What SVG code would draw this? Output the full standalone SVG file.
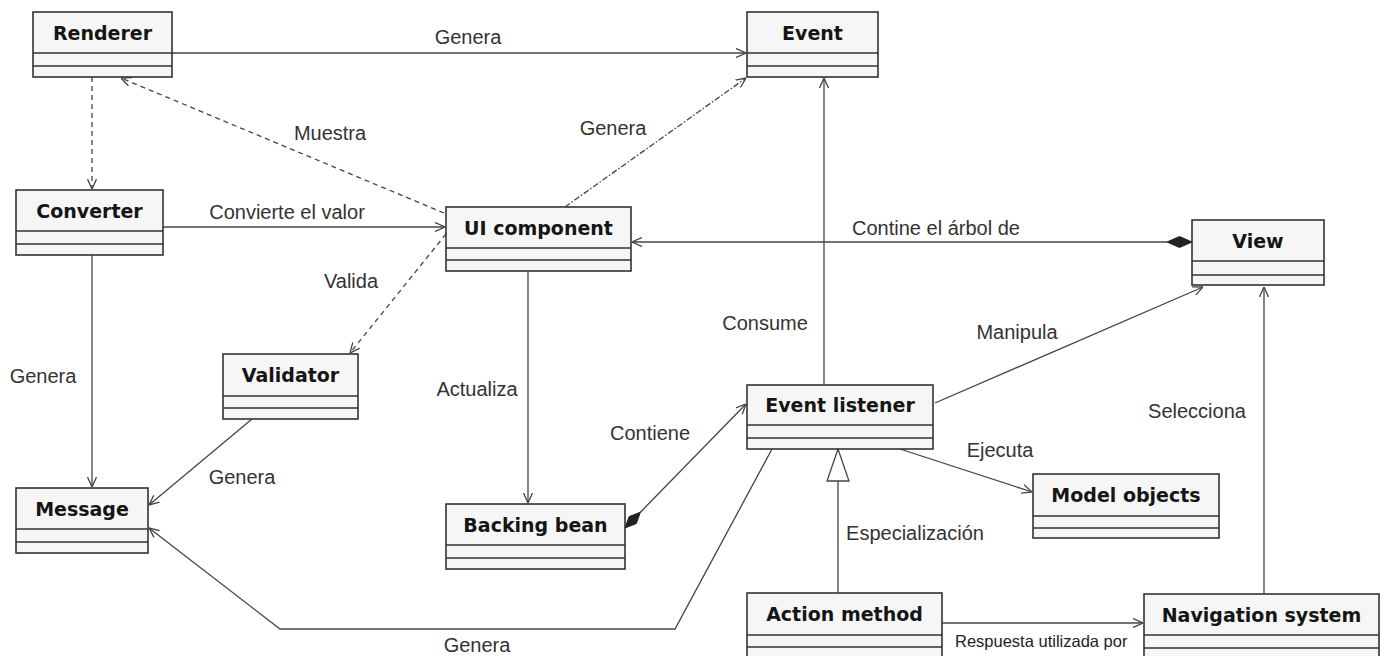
<svg xmlns="http://www.w3.org/2000/svg" width="1387" height="656" viewBox="0 0 1387 656">
<defs>
<style>
.box{fill:#f6f6f6;stroke:#333;stroke-width:1.6}
.div{stroke:#333;stroke-width:1.6;fill:none}
.name{font-family:"DejaVu Sans",Verdana,sans-serif;font-weight:bold;font-size:19px;fill:#151515;text-anchor:middle}
.lbl{font-family:"Liberation Sans",Arial,sans-serif;font-size:20px;fill:#333;text-anchor:middle}
.small{font-family:"Liberation Sans",Arial,sans-serif;font-size:16.5px;fill:#222}
.c{fill:none;stroke:#444;stroke-width:1.3}
.dash{stroke-dasharray:5,4}
.dd{stroke-dasharray:6,2,1.5,2}
</style>
<marker id="arr" viewBox="0 0 10 10" refX="10" refY="5" markerWidth="10" markerHeight="10" markerUnits="userSpaceOnUse" orient="auto">
<path d="M0,0.5 L10,5 L0,9.5" fill="none" stroke="#444" stroke-width="1.3"/>
</marker>
</defs>
<rect width="1387" height="656" fill="#ffffff"/>

<g id="connectors">
<path class="c" d="M172,53 H746" marker-end="url(#arr)"/>
<path class="c dash" d="M92,77 V189" marker-end="url(#arr)"/>
<path class="c dash" d="M444,213 L121,78" marker-end="url(#arr)"/>
<path class="c" d="M163,227 H445" marker-end="url(#arr)"/>
<path class="c dd" d="M565,207 L746,78" marker-end="url(#arr)"/>
<path class="c" d="M1167,242 H632" marker-end="url(#arr)"/>
<polygon points="1192,242 1179.5,236.5 1167,242 1179.5,247.5" fill="#222" stroke="#222" stroke-width="1"/>
<path class="c dash" d="M446,234 L350,353" marker-end="url(#arr)"/>
<path class="c" d="M92,255 V487" marker-end="url(#arr)"/>
<path class="c" d="M252,419 L149,505" marker-end="url(#arr)"/>
<path class="c" d="M528,271 V503" marker-end="url(#arr)"/>
<path class="c" d="M640.4,512.2 L746,404" marker-end="url(#arr)"/>
<polygon points="625,528 629.1,516.6 640.4,512.2 636.3,523.6" fill="#222" stroke="#222" stroke-width="1"/>
<path class="c" d="M824,385 V78" marker-end="url(#arr)"/>
<path class="c" d="M935,403 L1203,287" marker-end="url(#arr)"/>
<path class="c" d="M900,449 L1032,492" marker-end="url(#arr)"/>
<path class="c" d="M838,593 V481"/>
<polygon points="838,449 827,481 849,481" fill="#ffffff" stroke="#444" stroke-width="1.3"/>
<path class="c" d="M942,623 H1143" marker-end="url(#arr)"/>
<path class="c" d="M1264,594 V287" marker-end="url(#arr)"/>
<path class="c" d="M772,449 L675,629 H280 L149,528" marker-end="url(#arr)"/>
</g>

<g id="labels">
<text class="lbl" x="468" y="44">Genera</text>
<text class="lbl" x="330" y="140">Muestra</text>
<text class="lbl" x="613" y="135">Genera</text>
<text class="lbl" x="287" y="219">Convierte el valor</text>
<text class="lbl" x="936" y="235">Contine el árbol de</text>
<text class="lbl" x="351" y="288">Valida</text>
<text class="lbl" x="765" y="330">Consume</text>
<text class="lbl" x="1017" y="339">Manipula</text>
<text class="lbl" x="43" y="383">Genera</text>
<text class="lbl" x="477" y="396">Actualiza</text>
<text class="lbl" x="1197" y="418">Selecciona</text>
<text class="lbl" x="650" y="440">Contiene</text>
<text class="lbl" x="1000" y="457">Ejecuta</text>
<text class="lbl" x="242" y="484">Genera</text>
<text class="lbl" x="915" y="540">Especialización</text>
<text class="lbl" x="477" y="652">Genera</text>
<text class="small" x="955" y="647">Respuesta utilizada por</text>
</g>

<g id="renderer">
<rect class="box" x="33" y="12" width="139" height="65"/>
<path class="div" d="M33,53 H172 M33,66 H172"/>
<text class="name" x="102.5" y="39.5">Renderer</text>
</g>
<g id="event">
<rect class="box" x="747" y="12" width="131" height="65"/>
<path class="div" d="M747,53 H878 M747,66 H878"/>
<text class="name" x="812.5" y="39.5">Event</text>
</g>
<g id="converter">
<rect class="box" x="16" y="190" width="147" height="65"/>
<path class="div" d="M16,231 H163 M16,244 H163"/>
<text class="name" x="89.5" y="217.5">Converter</text>
</g>
<g id="ui-component">
<rect class="box" x="446" y="207" width="185" height="64"/>
<path class="div" d="M446,248 H631 M446,260 H631"/>
<text class="name" x="538.5" y="234.5">UI component</text>
</g>
<g id="view">
<rect class="box" x="1192" y="220" width="132" height="65"/>
<path class="div" d="M1192,261 H1324 M1192,275 H1324"/>
<text class="name" x="1258" y="247.5">View</text>
</g>
<g id="validator">
<rect class="box" x="223" y="354" width="135" height="65"/>
<path class="div" d="M223,396 H358 M223,408 H358"/>
<text class="name" x="290.5" y="381.5">Validator</text>
</g>
<g id="event-listener">
<rect class="box" x="747" y="385" width="186" height="64"/>
<path class="div" d="M747,425 H933 M747,438 H933"/>
<text class="name" x="840" y="411.5">Event listener</text>
</g>
<g id="message">
<rect class="box" x="16" y="488" width="132" height="65"/>
<path class="div" d="M16,529 H148 M16,542 H148"/>
<text class="name" x="82" y="515.5">Message</text>
</g>
<g id="backing-bean">
<rect class="box" x="446" y="504" width="179" height="65"/>
<path class="div" d="M446,545 H625 M446,558 H625"/>
<text class="name" x="535.5" y="531.5">Backing bean</text>
</g>
<g id="model-objects">
<rect class="box" x="1033" y="474" width="186" height="64"/>
<path class="div" d="M1033,516 H1219 M1033,528 H1219"/>
<text class="name" x="1126" y="501.5">Model objects</text>
</g>
<g id="action-method">
<rect class="box" x="747" y="593" width="195" height="66"/>
<path class="div" d="M747,635 H942 M747,647 H942"/>
<text class="name" x="844.5" y="620.5">Action method</text>
</g>
<g id="navigation-system">
<rect class="box" x="1144" y="594" width="235" height="65"/>
<path class="div" d="M1144,635 H1379 M1144,648 H1379"/>
<text class="name" x="1261.5" y="621.5">Navigation system</text>
</g>
</svg>
